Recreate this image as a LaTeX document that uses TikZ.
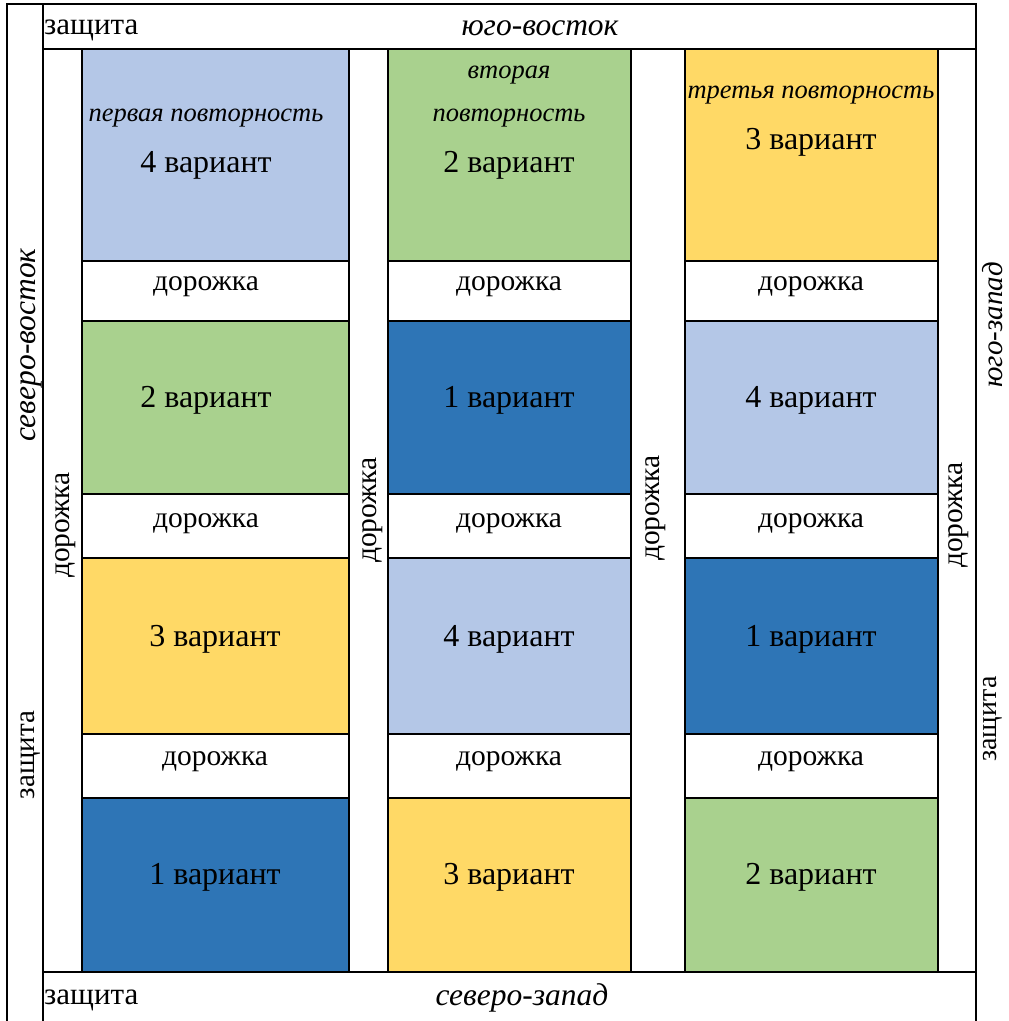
\documentclass[tikz,border=0pt]{standalone}
\usepackage{fontspec}
\setmainfont{Liberation Serif}
\definecolor{lblue}{HTML}{B4C7E7}
\definecolor{lgreen}{HTML}{A9D18E}
\definecolor{lyellow}{HTML}{FFD966}
\definecolor{dblue}{HTML}{2E75B6}
\tikzset{
  frame/.style={line width=2.6pt, line cap=rect},
  cellbox/.style={draw=black, line width=2.6pt, inner sep=0pt, outer sep=0pt, anchor=north west},
  big/.style={inner sep=0pt, font=\fontsize{32}{34}\selectfont},
  path label/.style={inner sep=0pt, font=\fontsize{29.5}{32}\selectfont},
  rep/.style={inner sep=0pt, font=\fontsize{26.5}{29}\selectfont\itshape},
  side/.style={inner sep=0pt, font=\fontsize{31}{33}\selectfont},
  sideit/.style={inner sep=0pt, font=\fontsize{31.5}{33}\selectfont\itshape},
}
\begin{document}
\begin{tikzpicture}[x=1pt,y=-1pt]
\useasboundingbox (0,0) rectangle (1009,1021);
% frame
\draw[frame] (7,1025) -- (7,4) -- (976,4) -- (976,1025);
\draw[frame] (43,1025) -- (43,4);
\draw[frame] (43,49) -- (976,49);
\draw[frame] (43,972) -- (976,972);
% column 1
\node[cellbox, fill=lblue, minimum width=267pt, minimum height=212pt] (a1) at (82,49) {};
\node[cellbox, fill=white, minimum width=267pt, minimum height=60pt] (a2) at (82,261) {};
\node[cellbox, fill=lgreen, minimum width=267pt, minimum height=173pt] (a3) at (82,321) {};
\node[cellbox, fill=white, minimum width=267pt, minimum height=64pt] (a4) at (82,494) {};
\node[cellbox, fill=lyellow, minimum width=267pt, minimum height=176pt] (a5) at (82,558) {};
\node[cellbox, fill=white, minimum width=267pt, minimum height=64pt] (a6) at (82,734) {};
\node[cellbox, fill=dblue, minimum width=267pt, minimum height=174pt] (a7) at (82,798) {};
% column 2
\node[cellbox, fill=lgreen, minimum width=243pt, minimum height=212pt] (b1) at (388,49) {};
\node[cellbox, fill=white, minimum width=243pt, minimum height=60pt] (b2) at (388,261) {};
\node[cellbox, fill=dblue, minimum width=243pt, minimum height=173pt] (b3) at (388,321) {};
\node[cellbox, fill=white, minimum width=243pt, minimum height=64pt] (b4) at (388,494) {};
\node[cellbox, fill=lblue, minimum width=243pt, minimum height=176pt] (b5) at (388,558) {};
\node[cellbox, fill=white, minimum width=243pt, minimum height=64pt] (b6) at (388,734) {};
\node[cellbox, fill=lyellow, minimum width=243pt, minimum height=174pt] (b7) at (388,798) {};
% column 3
\node[cellbox, fill=lyellow, minimum width=253pt, minimum height=212pt] (c1) at (685,49) {};
\node[cellbox, fill=white, minimum width=253pt, minimum height=60pt] (c2) at (685,261) {};
\node[cellbox, fill=lblue, minimum width=253pt, minimum height=173pt] (c3) at (685,321) {};
\node[cellbox, fill=white, minimum width=253pt, minimum height=64pt] (c4) at (685,494) {};
\node[cellbox, fill=dblue, minimum width=253pt, minimum height=176pt] (c5) at (685,558) {};
\node[cellbox, fill=white, minimum width=253pt, minimum height=64pt] (c6) at (685,734) {};
\node[cellbox, fill=lgreen, minimum width=253pt, minimum height=174pt] (c7) at (685,798) {};
% repetition labels
\node[rep] (r1) at (206,118) {первая повторность};
\node[rep] (r2a) at (509,75) {вторая};
\node[rep] (r2b) at (509,118) {повторность};
\node[rep] (r3) at (811,95) {третья повторность};
% variant labels
\node[big] (va1) at (206,165) {4 вариант};
\node[big] (va3) at (206,400) {2 вариант};
\node[big] (va5) at (215,639) {3 вариант};
\node[big] (va7) at (215,877) {1 вариант};
\node[big] (vb1) at (509,165) {2 вариант};
\node[big] (vb3) at (509,400) {1 вариант};
\node[big] (vb5) at (509,639) {4 вариант};
\node[big] (vb7) at (509,877) {3 вариант};
\node[big] (vc1) at (811,142) {3 вариант};
\node[big] (vc3) at (811,400) {4 вариант};
\node[big] (vc5) at (811,639) {1 вариант};
\node[big] (vc7) at (811,877) {2 вариант};
% path labels (horizontal)
\node[path label] (pa2) at (206,287) {дорожка};
\node[path label] (pa4) at (206,524) {дорожка};
\node[path label] (pa6) at (215,762) {дорожка};
\node[path label] (pb2) at (509,287) {дорожка};
\node[path label] (pb4) at (509,524) {дорожка};
\node[path label] (pb6) at (509,762) {дорожка};
\node[path label] (pc2) at (811,287) {дорожка};
\node[path label] (pc4) at (811,524) {дорожка};
\node[path label] (pc6) at (811,762) {дорожка};
% path labels (vertical)
\node[path label, rotate=90] (v0) at (66,525) {дорожка};
\node[path label, rotate=90] (v1) at (373,510) {дорожка};
\node[path label, rotate=90] (v2) at (656,508) {дорожка};
\node[path label, rotate=90] (v3) at (959,515) {дорожка};
% side labels
\node[side, anchor=west] (zt) at (44,30) {защита};
\node[sideit] (ne) at (540,28) {юго-восток};
\node[side, anchor=west] (zb) at (44,1000) {защита};
\node[sideit] (nw) at (522,998) {северо-запад};
\node[sideit, rotate=90] (sl) at (31,345) {северо-восток};
\node[side, rotate=90, font=\fontsize{29}{31}\selectfont] (zl) at (31,755) {защита};
\node[sideit, rotate=90, font=\fontsize{29}{31}\selectfont\itshape] (sr) at (993,325) {юго-запад};
\node[side, rotate=90, font=\fontsize{28}{30}\selectfont] (zr) at (993,719) {защита};
\end{tikzpicture}
\end{document}
